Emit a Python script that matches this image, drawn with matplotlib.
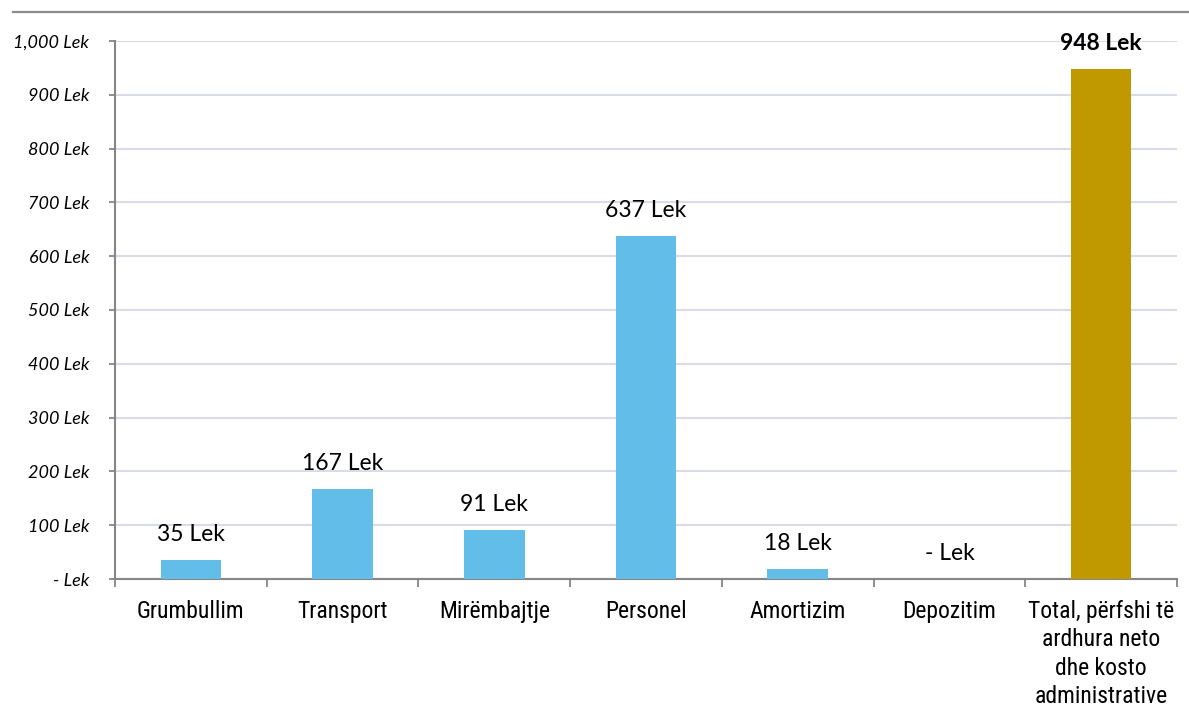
import matplotlib
matplotlib.use("Agg")
import matplotlib.pyplot as plt
from matplotlib.lines import Line2D
from matplotlib import font_manager

categories = ["Grumbullim", "Transport", "Mirëmbajtje", "Personel", "Amortizim", "Depozitim",
              "Total, përfshi të\nardhura neto\ndhe kosto\nadministrative"]
values = [35, 167, 91, 637, 18, 0, 948]
value_labels = ["35 Lek", "167 Lek", "91 Lek", "637 Lek", "18 Lek", "- Lek", "948 Lek"]
yticks = [0, 100, 200, 300, 400, 500, 600, 700, 800, 900, 1000]
ytick_labels = ["- Lek", "100 Lek", "200 Lek", "300 Lek", "400 Lek", "500 Lek", "600 Lek",
                "700 Lek", "800 Lek", "900 Lek", "1,000 Lek"]

BLUE = "#63BDE9"
GOLD = "#C09900"
colors = [BLUE] * 6 + [GOLD]

names = {f.name for f in font_manager.fontManager.ttflist}
narrow = "Liberation Sans"
for cand in ["Liberation Sans Narrow", "Roboto Condensed", "Open Sans Condensed"]:
    if cand in names:
        narrow = cand
        break

fig = plt.figure(figsize=(11.89, 7.24), dpi=100)
ax = fig.add_axes([115/1189, 1-579/724, (1177-115)/1189, (579-41)/724])

x = list(range(len(categories)))
ax.bar(x, values, width=0.4, color=colors, zorder=3)

ax.set_xlim(-0.5, len(categories) - 0.5)
ax.set_ylim(0, 1000)

ax.set_yticks(yticks)
ax.set_yticklabels(ytick_labels, fontfamily="Lato", fontstyle="italic", fontsize=13)
ax.tick_params(axis="y", direction="out", length=4.5, width=1.3, color="#868686", pad=14, labelcolor="black")
ax.yaxis.grid(True, color="#D9DCE8", linewidth=1.5, zorder=0)

ax.set_xticks(x)
ax.set_xticklabels(categories, fontfamily=narrow, fontsize=17, linespacing=1.3)
ax.tick_params(axis="x", which="major", length=0, pad=15)
ax.set_xticks([i - 0.5 for i in range(len(categories) + 1)], minor=True)
ax.tick_params(axis="x", which="minor", direction="out", length=6, width=1.3, color="#868686")

for s in ["top", "right"]:
    ax.spines[s].set_visible(False)
for s in ["left", "bottom"]:
    ax.spines[s].set_color("#868686")
    ax.spines[s].set_linewidth(1.5)

for i, (v, lab) in enumerate(zip(values, value_labels)):
    bold = (i == len(values) - 1)
    ax.annotate(lab, (i, v), xytext=(0, 11), textcoords="offset points",
                ha="center", va="bottom", fontfamily="Lato", fontsize=16.5,
                fontweight="bold" if bold else "normal", color="black")

fig.add_artist(Line2D([13/1189, 1.0], [1-12/724, 1-12/724], color="#8C8C8C", linewidth=1.6,
                      transform=fig.transFigure))

fig.savefig("out.png", dpi=100)
